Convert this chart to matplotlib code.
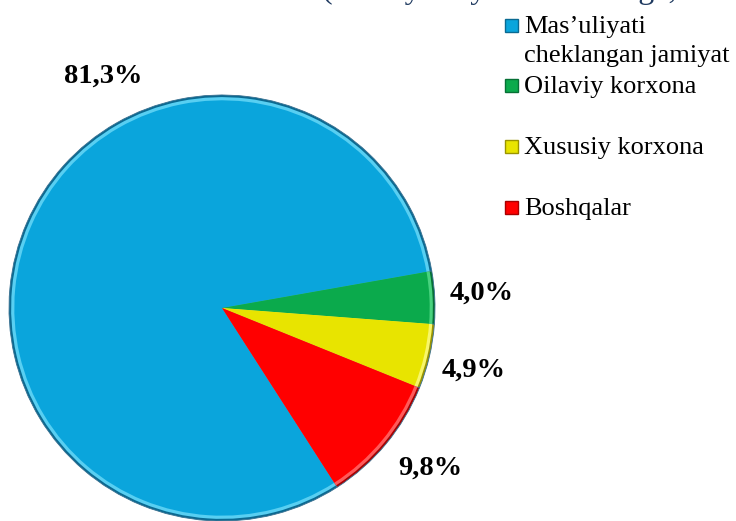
import matplotlib.pyplot as plt
from matplotlib.patches import Rectangle

# data
categories = ["Mas\u2019uliyati\ncheklangan jamiyat", "Oilaviy korxona", "Xususiy korxona", "Boshqalar"]
shares = [81.3, 4.0, 4.9, 9.8]
share_labels = ["81,3%", "4,0%", "4,9%", "9,8%"]

colors = ["#0AA5DC", "#0BAA4C", "#E8E400", "#FF0000"]
dark = ["#0A6A92", "#067035", "#9A9400", "#A80000"]
light = ["#58CFF2", "#48D27E", "#F8F66A", "#FF5A5A"]

# label positions (data coords, pie radius = 1)
label_pos = [(-0.56, 1.09), (1.22, 0.07), (1.18, -0.29), (0.98, -0.75)]
# legend baselines (first line) in pixels from top
legend_y = [33, 93, 154, 215]
line_step = 29

fig = plt.figure(figsize=(7.36, 5.21), dpi=100)
W, H = 736, 521
cx, cy, r = 222, 308, 213
ax = fig.add_axes([(cx - r) / W, (H - cy - r) / H, 2 * r / W, 2 * r / H])
ax.axis("off")

start = 360 - 57.3
# bevel: dark rim, light highlight, main fill
ax.pie(shares, colors=dark, startangle=start, counterclock=False, radius=1.0,
       wedgeprops=dict(linewidth=0.6, edgecolor="#3a7090"))
ax.pie(shares, colors=light, startangle=start, counterclock=False, radius=0.99,
       wedgeprops=dict(linewidth=0))
ax.pie(shares, colors=colors, startangle=start, counterclock=False, radius=0.975,
       wedgeprops=dict(linewidth=0))
ax.set_xlim(-1, 1)
ax.set_ylim(-1, 1)
ax.set_aspect("equal")

for (x, y), t in zip(label_pos, share_labels):
    ax.text(x, y, t, ha="center", va="center", fontsize=20.5, fontweight="bold",
            family="Liberation Serif", color="black", clip_on=False)

# legend drawn manually
for cat, c, d, yb in zip(categories, colors, dark, legend_y):
    fig.patches.append(Rectangle((505 / W, 1 - (yb - 1) / H), 13 / W, 13 / H,
                                 transform=fig.transFigure, facecolor=c,
                                 edgecolor=d, linewidth=1.0))
    for i, line in enumerate(cat.split("\n")):
        fig.text(524 / W, 1 - (yb + i * line_step) / H, line, ha="left",
                 va="baseline", fontsize=19, family="Liberation Serif", color="black")

# title, cut off at top edge
fig.text(322 / W, 1 + 2 / H, "(2023 yil 1 yanvar holatiga, foiz hisobida)", ha="left",
         va="baseline", fontsize=23, family="Liberation Serif", color="#1F3A60")

fig.savefig("out.png", dpi=100)
